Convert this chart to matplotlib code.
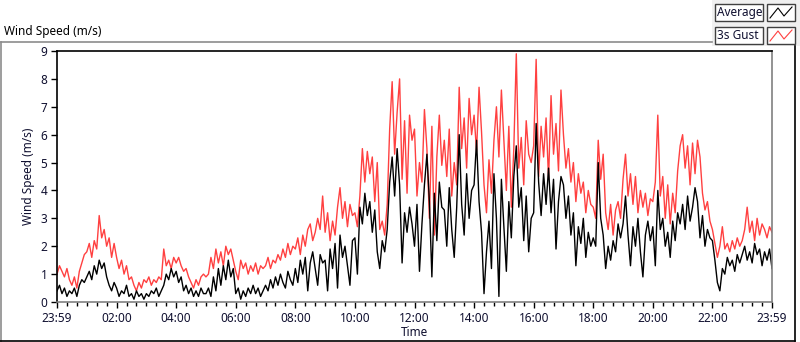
import numpy as np
import matplotlib
matplotlib.use("Agg")
import matplotlib.pyplot as plt
from matplotlib.lines import Line2D
from matplotlib.patches import Rectangle

# 5-minute readings, one row per hour (00:00 .. 23:55) plus the closing value
gust = [
    1.0, 1.3, 1.1, 0.9, 1.2, 0.8, 0.6, 0.9, 0.5, 1.1, 1.4, 1.7,
    1.8, 2.1, 1.6, 2.2, 1.9, 3.1, 2.3, 2.6, 2.0, 2.3, 1.6, 2.1,
    1.6, 1.2, 1.5, 1.0, 1.3, 0.8, 0.9, 0.6, 0.4, 0.7, 0.5, 0.8,
    0.7, 0.9, 0.6, 0.8, 0.7, 0.9, 0.8, 1.9, 1.3, 1.5, 1.2, 1.6,
    1.4, 1.6, 1.3, 1.1, 1.2, 0.9, 0.7, 0.5, 0.8, 0.6, 0.9, 1.0,
    0.9, 1.0, 1.6, 1.2, 1.9, 1.4, 1.8, 1.3, 2.0, 1.7, 1.9, 1.5,
    1.1, 0.8, 1.5, 1.2, 1.4, 1.0, 1.3, 1.1, 1.4, 1.0, 1.3, 1.2,
    1.3, 1.6, 1.2, 1.5, 1.4, 1.7, 1.5, 1.9, 1.6, 2.1, 1.7, 2.0,
    1.9, 2.3, 1.7, 2.4, 2.0, 2.6, 2.8, 2.2, 2.5, 3.0, 2.6, 3.8,
    2.5, 3.2, 2.2, 2.9, 2.4, 3.4, 4.1, 3.0, 3.6, 2.7, 3.5, 3.1,
    3.2, 2.7, 3.8, 5.5, 4.3, 5.4, 4.6, 5.2, 3.6, 5.0, 2.6, 2.9,
    2.4, 3.5, 6.2, 7.9, 5.3, 6.8, 8.0, 4.4, 6.5, 3.9, 6.7, 5.8,
    6.2, 3.8, 5.0, 4.3, 6.9, 5.5, 3.0, 6.3, 2.4, 5.2, 6.7, 4.9,
    5.8, 4.5, 6.2, 3.8, 5.0, 4.2, 7.7, 5.5, 6.6, 4.8, 7.3, 6.0,
    6.7, 5.4, 7.7, 6.1, 4.2, 3.2, 5.1, 3.9, 5.8, 7.0, 5.2, 7.6,
    5.8, 4.0, 6.3, 3.4, 5.5, 8.9, 4.8, 5.9, 4.2, 6.5, 5.3, 5.0,
    5.6, 8.7, 4.5, 6.3, 5.2, 6.6, 4.4, 7.4, 5.3, 6.4, 4.7, 7.6,
    6.0, 4.8, 5.5, 4.3, 5.0, 3.6, 4.6, 3.9, 4.3, 3.2, 4.0, 3.5,
    3.4, 3.0, 5.8, 4.4, 5.3, 3.2, 2.6, 3.5, 2.4, 3.3, 3.6, 3.0,
    4.4, 5.3, 3.8, 4.6, 3.5, 4.5, 3.2, 4.0, 3.4, 3.9, 3.1, 3.7,
    3.6, 4.3, 6.7, 3.8, 4.5, 3.0, 4.2, 2.8, 3.9, 3.2, 4.7, 5.6,
    6.0, 4.8, 5.6, 4.2, 5.7, 4.6, 5.8, 5.2, 3.9, 3.3, 3.6, 2.9,
    2.6, 2.1, 1.6, 2.0, 2.7, 1.9, 2.1, 1.8, 2.2, 1.9, 2.3, 2.0,
    2.2, 2.6, 3.4, 2.5, 2.9, 2.2, 3.0, 2.4, 2.8, 2.6, 2.3, 2.7,
    2.5,
]
average = [
    0.4, 0.6, 0.3, 0.5, 0.2, 0.4, 0.3, 0.5, 0.2, 0.6, 0.8, 0.7,
    0.9, 1.1, 0.8, 1.3, 1.0, 1.5, 1.2, 1.4, 0.9, 0.6, 0.4, 0.7,
    0.5, 0.2, 0.4, 0.3, 0.6, 0.2, 0.3, 0.1, 0.4, 0.2, 0.3, 0.1,
    0.3, 0.2, 0.4, 0.3, 0.5, 0.2, 0.4, 0.6, 1.0, 0.8, 1.2, 0.9,
    1.1, 0.7, 0.9, 0.4, 0.6, 0.3, 0.5, 0.2, 0.4, 0.2, 0.5, 0.3,
    0.3, 0.5, 0.2, 0.9, 0.4, 1.2, 0.6, 1.3, 0.8, 1.5, 0.9, 1.2,
    0.3, 0.5, 0.1, 0.4, 0.2, 0.5, 0.3, 0.6, 0.3, 0.5, 0.2, 0.4,
    0.6, 0.4, 0.8, 0.5, 0.9, 0.6, 1.0, 0.7, 0.5, 1.1, 0.8, 0.6,
    1.2, 0.7, 1.5, 1.0, 1.6, 0.4, 1.4, 1.8, 1.2, 0.6, 1.7, 1.4,
    1.5, 0.4, 1.9, 1.2, 2.1, 0.5, 2.4, 1.6, 2.0, 1.3, 0.6, 2.2,
    2.3, 1.0, 3.4, 2.8, 3.9, 3.1, 3.6, 2.5, 3.3, 1.8, 1.2, 2.2,
    1.8, 2.6, 4.3, 5.2, 3.8, 5.5, 4.2, 1.4, 3.2, 2.5, 3.4, 2.8,
    2.0, 3.5, 1.1, 2.8, 4.2, 5.3, 3.6, 0.9, 3.9, 2.2, 4.3, 3.4,
    3.3, 2.0, 4.1, 2.6, 1.6, 3.4, 6.0, 3.5, 2.4, 4.6, 3.0, 4.0,
    4.2, 5.8, 3.6, 2.5, 0.3, 1.8, 2.9, 1.2, 4.6, 3.0, 0.2, 4.4,
    2.7, 1.1, 3.6, 2.3, 4.5, 5.6, 3.4, 4.1, 2.2, 3.8, 1.8, 3.0,
    3.2, 6.4, 4.3, 3.1, 4.6, 3.5, 4.8, 3.2, 4.4, 1.9, 3.6, 4.5,
    4.2, 3.0, 3.8, 2.4, 3.2, 1.3, 2.7, 2.1, 3.0, 1.6, 2.5, 2.0,
    2.3, 2.0, 5.0, 3.0, 2.4, 1.2, 2.0, 1.5, 2.2, 1.8, 2.8, 2.3,
    2.8, 3.8, 2.4, 1.3, 2.7, 2.0, 3.0, 1.8, 0.9, 2.4, 2.9, 2.2,
    2.7, 1.3, 4.0, 2.6, 3.0, 2.0, 2.5, 1.6, 2.9, 2.2, 3.2, 2.8,
    3.5, 2.6, 3.8, 2.9, 3.4, 4.1, 3.6, 2.3, 3.1, 2.0, 2.6, 2.3,
    2.2, 1.5, 0.7, 0.4, 1.2, 1.0, 1.6, 1.3, 1.5, 1.1, 1.7, 1.4,
    1.7, 2.0, 1.5, 1.8, 1.4, 2.1, 1.7, 1.9, 1.3, 1.8, 1.5, 1.9,
    1.2,
]
minutes = np.arange(len(gust)) * 5

tick_minutes = list(range(0, 1441, 120))
tick_labels = ["23:59", "02:00", "04:00", "06:00", "08:00", "10:00", "12:00",
               "14:00", "16:00", "18:00", "20:00", "22:00", "23:59"]
series_names = ["Average", "3s Gust"]
series_colors = ["black", "#ff4040"]

txt = "#101030"
plt.rcParams["font.family"] = ["Noto Sans", "DejaVu Sans"]
plt.rcParams["font.size"] = 8.5

fig = plt.figure(figsize=(8, 3.42), dpi=100)
ax = fig.add_axes([57 / 800, 40 / 342, 715 / 800, 251 / 342])

ax.plot(minutes, gust, color=series_colors[1], lw=1.0)
ax.plot(minutes, average, color=series_colors[0], lw=1.0)

ax.set_xlim(0, 1440)
ax.set_ylim(0, 9)
ax.set_xticks(tick_minutes)
ax.set_xticklabels(tick_labels)
ax.set_xticks(range(0, 1441, 20), minor=True)
ax.set_yticks(range(0, 10))
ax.tick_params(which="major", length=4, width=1, color="black", labelcolor=txt, pad=3)
ax.tick_params(which="minor", length=3, width=1, color="black")
ax.set_xlabel("Time", color=txt, labelpad=1)
ax.set_ylabel("Wind Speed (m/s)", color=txt, labelpad=4)

ax.spines["top"].set_color("black")
ax.spines["left"].set_color("black")
ax.spines["bottom"].set_color("#808080")
ax.spines["right"].set_color("#808080")
for s in ax.spines.values():
    s.set_linewidth(1.2)

# outer panel frame
W, H = 800, 342
def fl(x0, y0, x1, y1, c):
    fig.add_artist(Line2D([x0 / W, x1 / W], [1 - y0 / H, 1 - y1 / H],
                          color=c, lw=1.2, transform=fig.transFigure))
fl(0.5, 42, 712, 42, "#8c8c8c")
fl(0.5, 42, 0.5, 342, "#8c8c8c")
fl(0, 341, 795, 341, "black")
fl(795, 46, 795, 341, "black")

fig.text(4 / W, 1 - 31 / H, "Wind Speed (m/s)", color="black", va="center", ha="left")

# legend panel
fig.add_artist(Rectangle((712 / W, 1 - 46 / H), 88 / W, 46 / H, transform=fig.transFigure,
                         facecolor="#f0f0f0", edgecolor="none"))
for i, name in enumerate(series_names):
    y0 = 4 + i * 23
    fig.add_artist(Rectangle((715 / W, 1 - (y0 + 17) / H), 48 / W, 17 / H, transform=fig.transFigure,
                             facecolor="white", edgecolor="#404040", lw=1))
    fig.add_artist(Rectangle((767 / W, 1 - (y0 + 17) / H), 28 / W, 17 / H, transform=fig.transFigure,
                             facecolor="white", edgecolor="#404040", lw=1))
    fig.text(717 / W, 1 - (y0 + 8.5) / H, name, color=txt, va="center", ha="left")
    xs = np.array([770, 778, 784, 792]) / W
    ys = 1 - (y0 + np.array([14, 4, 12, 3])) / H
    fig.add_artist(Line2D(xs, ys, color=series_colors[i], lw=0.8, transform=fig.transFigure))

fig.savefig("out.png", dpi=100)
